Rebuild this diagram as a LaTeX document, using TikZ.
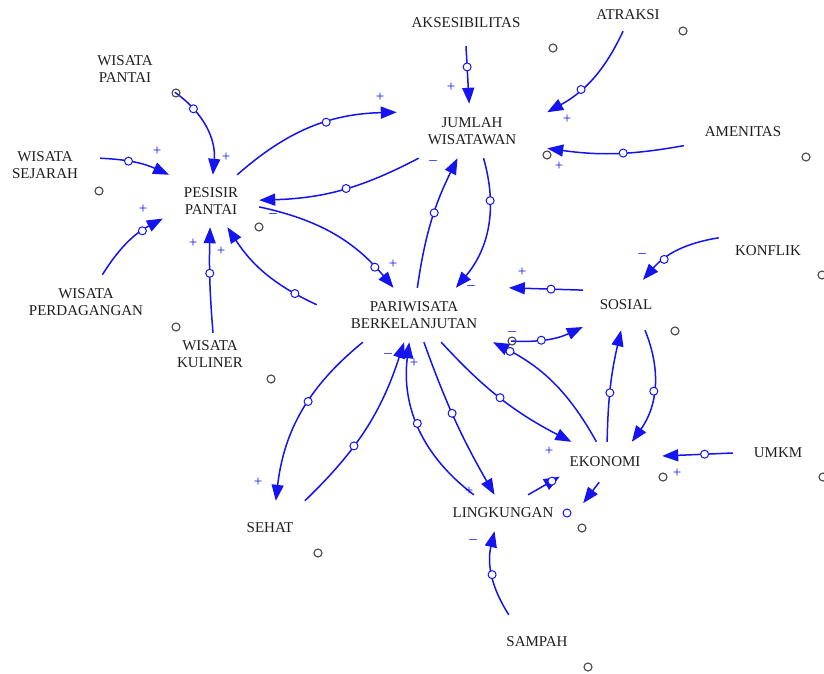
\documentclass[tikz,border=0pt]{standalone}
\usepackage{fontspec}
\setmainfont{Liberation Serif}
\usepackage{xcolor}
\usetikzlibrary{arrows.meta, calc}
\definecolor{linkblue}{RGB}{20, 20, 240}
\definecolor{labelgray}{RGB}{30, 30, 30}
\definecolor{ghostgray}{RGB}{70, 70, 70}
\newcommand{\varfont}{\fontsize{15}{17}\selectfont}
\tikzstyle{cldvar} = [rectangle, inner sep=0pt, align=center, text=labelgray, font=\varfont]
\tikzstyle{cldlink} = [draw=linkblue, line width=1.5pt, -{Triangle[length=16pt, width=12pt]}]
\tikzstyle{handle} = [circle, draw=linkblue, fill=white, line width=1pt, inner sep=0pt, minimum size=8pt]
\tikzstyle{ghost} = [circle, draw=ghostgray, line width=1.1pt, inner sep=0pt, minimum size=8pt]
\tikzstyle{polarity} = [text=linkblue, font=\fontsize{15}{15}\selectfont, inner sep=0pt]

\begin{document}
\begin{tikzpicture}[x=1pt, y=1pt]
\useasboundingbox (0,0) rectangle (824,-673);

% Core variables
\node (pesisir) [cldvar, minimum width=96, minimum height=52] at (211,-201) {PESISIR\\PANTAI};
\node (jumlah) [cldvar, minimum width=150, minimum height=54] at (472,-131) {JUMLAH\\WISATAWAN};
\node (pariwisata) [cldvar, minimum width=194, minimum height=54] at (414,-315) {PARIWISATA\\BERKELANJUTAN};
\node (sosial) [cldvar, minimum width=86, minimum height=50] at (626,-305) {SOSIAL};
\node (ekonomi) [cldvar, minimum width=114, minimum height=40] at (605,-462) {EKONOMI};
\node (lingkungan) [cldvar, minimum width=160, minimum height=36] at (503,-513) {LINGKUNGAN};
\node (sehat) [cldvar, minimum width=80, minimum height=54] at (270,-528) {SEHAT};

% Outer variables
\node (wpantai) [cldvar, minimum width=102, minimum height=46] at (125,-69) {WISATA\\PANTAI};
\node (wsejarah) [cldvar, minimum width=110, minimum height=40] at (45,-165) {WISATA\\SEJARAH};
\node (wperdagangan) [cldvar, minimum width=132, minimum height=54] at (86,-302) {WISATA\\PERDAGANGAN};
\node (wkuliner) [cldvar, minimum width=80, minimum height=42] at (210,-354) {WISATA\\KULINER};
\node (aksesibilitas) [cldvar, minimum width=120, minimum height=46] at (466,-23) {AKSESIBILITAS};
\node (atraksi) [cldvar, minimum width=70, minimum height=32] at (628,-15) {ATRAKSI};
\node (amenitas) [cldvar, minimum width=118, minimum height=28] at (743,-132) {AMENITAS};
\node (konflik) [cldvar, minimum width=100, minimum height=26] at (768,-251) {KONFLIK};
\node (umkm) [cldvar, minimum width=90, minimum height=24] at (778,-453) {UMKM};
\node (sampah) [cldvar, minimum width=80, minimum height=54] at (537,-642) {SAMPAH};

% Links into pesisir pantai
\draw [cldlink] (wpantai.335) to[bend left=30] node[handle, pos=.25] (c1) {} (pesisir.86);
\draw [cldlink] (wsejarah.7) to[bend left=11] node[handle, pos=.39] (c2) {} (pesisir.148);
\draw [cldlink] (wperdagangan.59) to[bend left=15] node[handle, pos=.73] (c3) {} (pesisir.200);
\draw [cldlink] (wkuliner.82) to[bend left=3] node[handle, pos=.57] (c4) {} (pesisir.268);
\draw [cldlink] (pariwisata.174) to[bend left=16] node[handle, pos=.19] (c5) {} (pesisir.302);
\draw [cldlink] (jumlah.207) to[bend left=13] node[handle, pos=.47] (c6) {} (pesisir.1);

% Links out of pesisir pantai
\draw [cldlink] (pesisir.45) to[bend left=20] node[handle, pos=.6] (c7) {} (jumlah.166);
\draw [cldlink] (pesisir.353) to[bend left=19] node[handle, pos=.84] (c8) {} (pariwisata.127);

% Links into jumlah wisatawan
\draw [cldlink] (aksesibilitas.south) -- node[handle, pos=.36] (c9) {} (jumlah.96);
\draw [cldlink] (atraksi.253) to[bend left=18] node[handle, pos=.65] (c10) {} (jumlah.14);
\draw [cldlink] (amenitas.193) to[bend left=9] node[handle, pos=.44] (c11) {} (jumlah.347);
\draw [cldlink] (pariwisata.83) to[bend left=9] node[handle, pos=.57] (c12) {} (jumlah.242);
\draw [cldlink] (jumlah.293) to[bend left=28] node[handle, pos=.3] (c13) {} (pariwisata.33);

% Sosial
\draw [cldlink] (sosial.161) -- node[handle, pos=.43] (c14) {} (pariwisata.16);
\draw [cldlink] (pariwisata.345) to[bend right=14] node[handle, pos=.4] (c15) {} (sosial.207);
\draw [cldlink] (konflik.165) to[bend right=20] node[handle, pos=.68] (c16) {} (sosial.56);
\draw [cldlink] (ekonomi.84) to[bend left=6] node[handle, pos=.43] (c17) {} (sosial.259);
\draw [cldlink] (sosial.307) to[bend left=29] node[handle, pos=.53] (c18) {} (ekonomi.37);

% Ekonomi
\draw [cldlink] (ekonomi.113) to[bend right=17] node[handle, pos=.88] (c19) {} (pariwisata.341);
\draw [cldlink] (pariwisata.315) to[bend right=10] node[handle, pos=.49] (c20) {} (ekonomi.149);
\draw [cldlink] (umkm.180) -- node[handle, pos=.4] (c21) {} (ekonomi.6);
\draw [cldlink] (ekonomi.254) -- (lingkungan.7);
\draw [cldlink] (lingkungan.36) -- node[handle, pos=.75] (c22) {} ([shift={(12,4)}]ekonomi.198);

% Lingkungan and sehat
\draw [cldlink] (pariwisata.290) to[bend right=5] node[handle, pos=.45] (c23) {} (lingkungan.115);
\draw [cldlink] (lingkungan.148) to[bend left=30] node[handle, pos=.53] (c24) {} (pariwisata.260);
\draw [cldlink] (sampah.136) to[bend left=23] node[handle, pos=.5] (c25) {} (lingkungan.245);
\draw [cldlink] (pariwisata.208) to[bend right=22] node[handle, pos=.43] (c26) {} (sehat.78);
\draw [cldlink] (sehat.38) to[bend right=14] node[handle, pos=.38] (c27) {} (pariwisata.250);
\node (c28) [handle] at (567,-513) {};

% Polarity signs
\node (p1) [polarity] at (226,-157) {+};
\node (p2) [polarity] at (157,-151) {+};
\node (p3) [polarity] at (143,-209) {+};
\node (p4) [polarity] at (193,-243) {+};
\node (p5) [polarity] at (221,-251) {+};
\node (p6) [polarity] at (380,-97) {+};
\node (p7) [polarity] at (433,-163) {–};
\node (p8) [polarity] at (273,-216) {–};
\node (p9) [polarity] at (393,-264) {+};
\node (p10) [polarity] at (451,-87) {+};
\node (p11) [polarity] at (567,-119) {+};
\node (p12) [polarity] at (559,-166) {+};
\node (p13) [polarity] at (471,-288) {–};
\node (p14) [polarity] at (522,-272) {+};
\node (p15) [polarity] at (512,-334) {–};
\node (p16) [polarity] at (642,-256) {–};
\node (p17) [polarity] at (677,-473) {+};
\node (p18) [polarity] at (549,-451) {+};
\node (p19) [polarity] at (469,-491) {+};
\node (p20) [polarity] at (414,-363) {+};
\node (p21) [polarity] at (388,-356) {–};
\node (p22) [polarity] at (258,-482) {+};
\node (p23) [polarity] at (473,-542) {–};

% Small grey markers
\node (o1) [ghost] at (176,-93) {};
\node (o2) [ghost] at (99,-191) {};
\node (o3) [ghost] at (259,-227) {};
\node (o4) [ghost] at (176,-327) {};
\node (o5) [ghost] at (553,-48) {};
\node (o6) [ghost] at (683,-31) {};
\node (o7) [ghost] at (547,-155) {};
\node (o8) [ghost] at (806,-157) {};
\node (o9) [ghost] at (822,-275) {};
\node (o10) [ghost] at (675,-331) {};
\node (o11) [ghost] at (512,-341) {};
\node (o12) [ghost] at (271,-379) {};
\node (o13) [ghost] at (663,-477) {};
\node (o14) [ghost] at (823,-477) {};
\node (o15) [ghost] at (582,-528) {};
\node (o16) [ghost] at (318,-553) {};
\node (o17) [ghost] at (588,-667) {};

\end{tikzpicture}
\end{document}
